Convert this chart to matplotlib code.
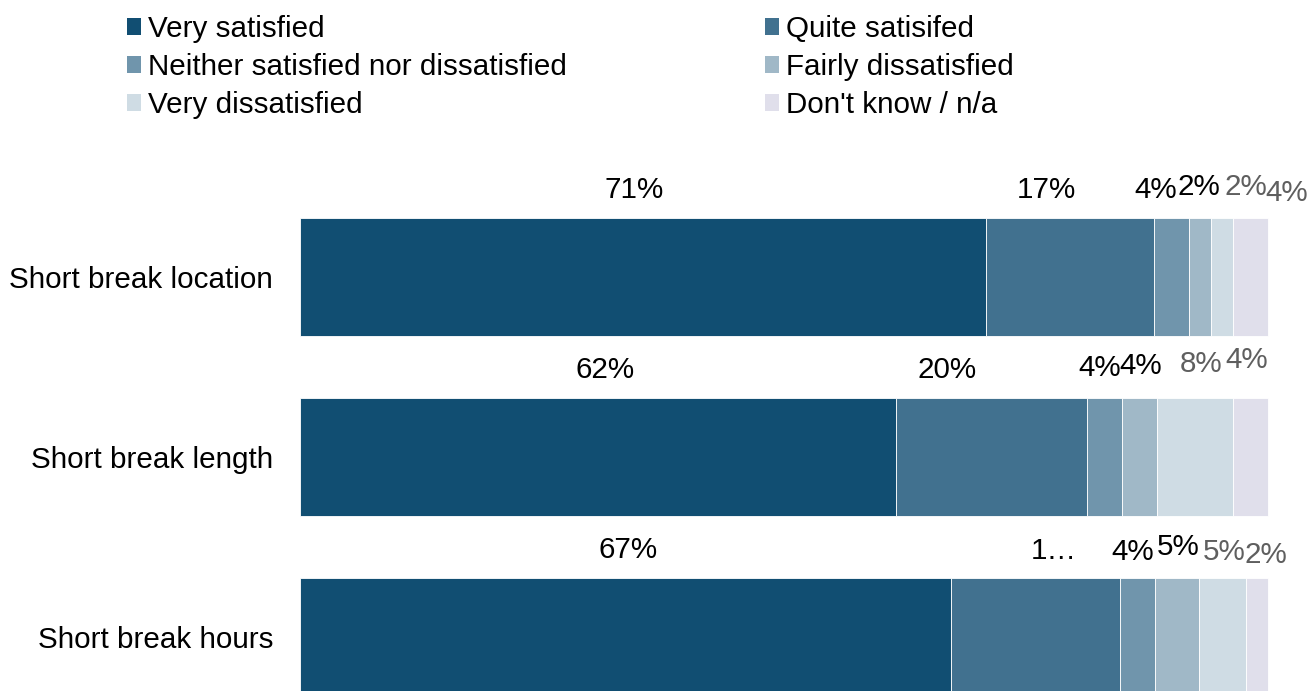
import matplotlib
matplotlib.use("Agg")
import matplotlib.pyplot as plt
from matplotlib.patches import Patch

# Survey results: satisfaction with short breaks (% of respondents)
categories = ["Short break location", "Short break length", "Short break hours"]
series = ["Very satisfied", "Quite satisifed", "Neither satisfied nor dissatisfied",
          "Fairly dissatisfied", "Very dissatisfied", "Don't know / n/a"]
very_satisfied = [70.9, 61.6, 67.3]
quite_satisfied = [17.3, 19.7, 17.4]
neither = [3.6, 3.6, 3.6]
fairly_dissatisfied = [2.3, 3.6, 4.6]
very_dissatisfied = [2.3, 7.9, 4.8]
dont_know = [3.6, 3.6, 2.3]
values = [very_satisfied, quite_satisfied, neither,
          fairly_dissatisfied, very_dissatisfied, dont_know]

# styling
colors = ["#114e72", "#41718f", "#7095ac", "#a0b8c7", "#cfdce4", "#e0dfeb"]
label_colors = ["#000000"] * 4 + ["#5f5f5f"] * 2
# value-label placement: horizontal nudge from the segment centre and
# lift above the bar top, both in pixels, to keep the small labels apart
label_shift = [[-9, -24, -16, -1, 24, 36],
               [7, -45, -5, 1, 6, -4],
               [2, 18, -5, 1, 2, 9]]
label_lift = [[28.5, 28, 27.5, 31, 31, 25],
              [28, 27.5, 30, 32.5, 34, 38.5],
              [28, 27, 26, 31, 26, 23]]
truncated = {(2, 1)}  # labels that do not fit and are elided

plt.rcParams["font.family"] = ["Liberation Sans", "DejaVu Sans"]
FS = 21.3

W, H = 1312, 691
fig = plt.figure(figsize=(W / 100, H / 100), dpi=100)
ax_left, ax_top = 300, 160
ax = fig.add_axes([ax_left / W, 0, 1 - ax_left / W, (H - ax_top) / H])

px_per_unit_x = 968 / 100.0
px_per_unit_y = 180.0
bar_h = 118 / px_per_unit_y
ax.set_xlim(0, (W - ax_left) / px_per_unit_x)
y0 = (ax_top - 277) / px_per_unit_y
y1 = (H - 277) / px_per_unit_y
ax.set_ylim(y1, y0)

ypos = list(range(len(categories)))
left = [0.0] * len(categories)
for s, (name, vals) in enumerate(zip(series, values)):
    ax.barh(ypos, vals, left=left, height=bar_h, color=colors[s],
            edgecolor="white", linewidth=0.6, label=name)
    for i, v in enumerate(vals):
        txt = f"{v:.0f}%"
        if (i, s) in truncated:
            txt = txt[0] + "\u2026"
        cx = left[i] + v / 2 + label_shift[i][s] / px_per_unit_x
        cy = ypos[i] - bar_h / 2 - label_lift[i][s] / px_per_unit_y
        ax.text(cx, cy, txt, ha="center", va="center", fontsize=FS,
                color=label_colors[s], clip_on=False)
    left = [l + v for l, v in zip(left, vals)]

ax.set_yticks(ypos)
ax.set_yticklabels(categories, fontsize=FS)
ax.tick_params(axis="y", length=0, pad=19.4)
ax.set_xticks([])
for sp in ax.spines.values():
    sp.set_visible(False)

handles = [Patch(facecolor=c, edgecolor="none") for c in colors]
order = [0, 2, 4, 1, 3, 5]
fig.legend([handles[k] for k in order], [series[k] for k in order],
           ncol=2, loc="upper left", bbox_to_anchor=(127 / W, 1 - 15 / H),
           frameon=False, fontsize=FS, borderpad=0, borderaxespad=0,
           handlelength=0.475, handleheight=0.475, handletextpad=0.24,
           labelspacing=0.34, columnspacing=6.7)

fig.savefig("out.png", dpi=100, facecolor="white")
